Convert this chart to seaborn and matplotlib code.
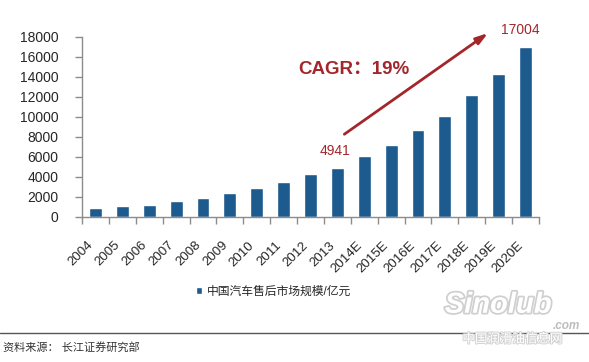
import numpy as np
import pandas as pd
import matplotlib
matplotlib.use('Agg')
import matplotlib.pyplot as plt
import matplotlib.patheffects as pe
import matplotlib.transforms as mtransforms
from matplotlib.lines import Line2D
import seaborn as sns

# data
years = ['2004', '2005', '2006', '2007', '2008', '2009', '2010', '2011', '2012', '2013',
         '2014E', '2015E', '2016E', '2017E', '2018E', '2019E', '2020E']
market_size = [900, 1060, 1230, 1560, 1860, 2390, 2850, 3490, 4320, 4941,
               6080, 7210, 8670, 10130, 12190, 14320, 17004]
series_name = '中国汽车售后市场规模/亿元'
cagr_text = 'CAGR：19%'
source_text = '资料来源： 长江证券研究部'

df = pd.DataFrame({'year': years, 'value': market_size})

sns.set_style('white')
plt.rcParams['font.family'] = ['Liberation Sans', 'Noto Sans CJK SC', 'DejaVu Sans']

bar_color = '#1D5A8E'
red = '#A3262B'
axis_gray = '#8C8C8C'

fig = plt.figure(figsize=(5.89, 3.62), dpi=100)
ax = fig.add_axes([0.1392, 0.4006, 0.7759, 0.4972])

sns.barplot(data=df, x='year', y='value', color=bar_color, width=0.48,
            saturation=1, label=series_name, ax=ax)

ax.set_xlim(-0.5, len(years) - 0.5)
ax.set_ylim(0, 18000)
ax.set_yticks(np.arange(0, 18001, 2000))
ax.set_xlabel('')
ax.set_ylabel('')

for s in ['top', 'right']:
    ax.spines[s].set_visible(False)
for s in ['left', 'bottom']:
    ax.spines[s].set_color(axis_gray)
    ax.spines[s].set_linewidth(1)

ax.tick_params(axis='y', direction='out', length=5, width=1, color=axis_gray,
               pad=12, labelsize=10, left=True)
ax.tick_params(axis='x', which='major', length=0, pad=16, labelsize=9.5)
ax.set_xticks(np.arange(-0.5, len(years), 1), minor=True)
ax.tick_params(axis='x', which='minor', direction='out', length=5, width=1,
               color=axis_gray, bottom=True)
plt.setp(ax.get_xticklabels(), rotation=45, ha='right', va='top')

# annotations
i13 = years.index('2013')
i20 = years.index('2020E')
ax.annotate(f'{market_size[i13]}', xy=(i13, market_size[i13]), xytext=(-2, 7),
            textcoords='offset points', ha='center', va='bottom',
            color=red, fontsize=10)
ax.annotate(f'{market_size[i20]}', xy=(i20, market_size[i20]), xytext=(-4, 7),
            textcoords='offset points', ha='center', va='bottom',
            color=red, fontsize=10, annotation_clip=False)

# arrow from above the 2013 label to just left of the 2020E label
start_tr = ax.transData + mtransforms.ScaledTranslation(5 / 72, 24 / 72, fig.dpi_scale_trans)
end_tr = ax.transData + mtransforms.ScaledTranslation(-27 / 72, 10 / 72, fig.dpi_scale_trans)
ax.annotate('', xy=(i20, market_size[i20]), xycoords=end_tr,
            xytext=(i13, market_size[i13]), textcoords=start_tr,
            arrowprops=dict(arrowstyle='-|>,head_length=0.7,head_width=0.22',
                            color=red, lw=2, shrinkA=0, shrinkB=0),
            annotation_clip=False)
ax.text(0.595, 0.82, cagr_text, transform=ax.transAxes, ha='center', va='center',
        color=red, fontsize=13.5, fontweight='bold')

leg = ax.legend(loc='center', bbox_to_anchor=(0.465, 0.195), bbox_transform=fig.transFigure,
                frameon=False, fontsize=8.5, handlelength=0.5, handleheight=0.5,
                handletextpad=0.4)

# footer
fig.add_artist(Line2D([0, 1], [0.08, 0.08], transform=fig.transFigure,
                      color='#555555', lw=1))
fig.text(0.005, 0.04, source_text, ha='left', va='center', fontsize=8, color='#333333')

# watermark
fig.text(0.755, 0.158, 'Sinolub', ha='left', va='center', fontsize=21, fontstyle='italic',
         fontweight='bold', color='white',
         path_effects=[pe.withStroke(linewidth=2.5, foreground='#cfcfcf')])
fig.text(0.985, 0.1, '.com', ha='right', va='center', fontsize=8.5, fontstyle='italic',
         fontweight='bold', color='#bdbdbd')
fig.text(0.87, 0.062, '中国润滑油信息网', ha='center', va='center', fontsize=9,
         color='white', path_effects=[pe.withStroke(linewidth=1.5, foreground='#d5d5d5')])

fig.savefig('out.png', dpi=100)
